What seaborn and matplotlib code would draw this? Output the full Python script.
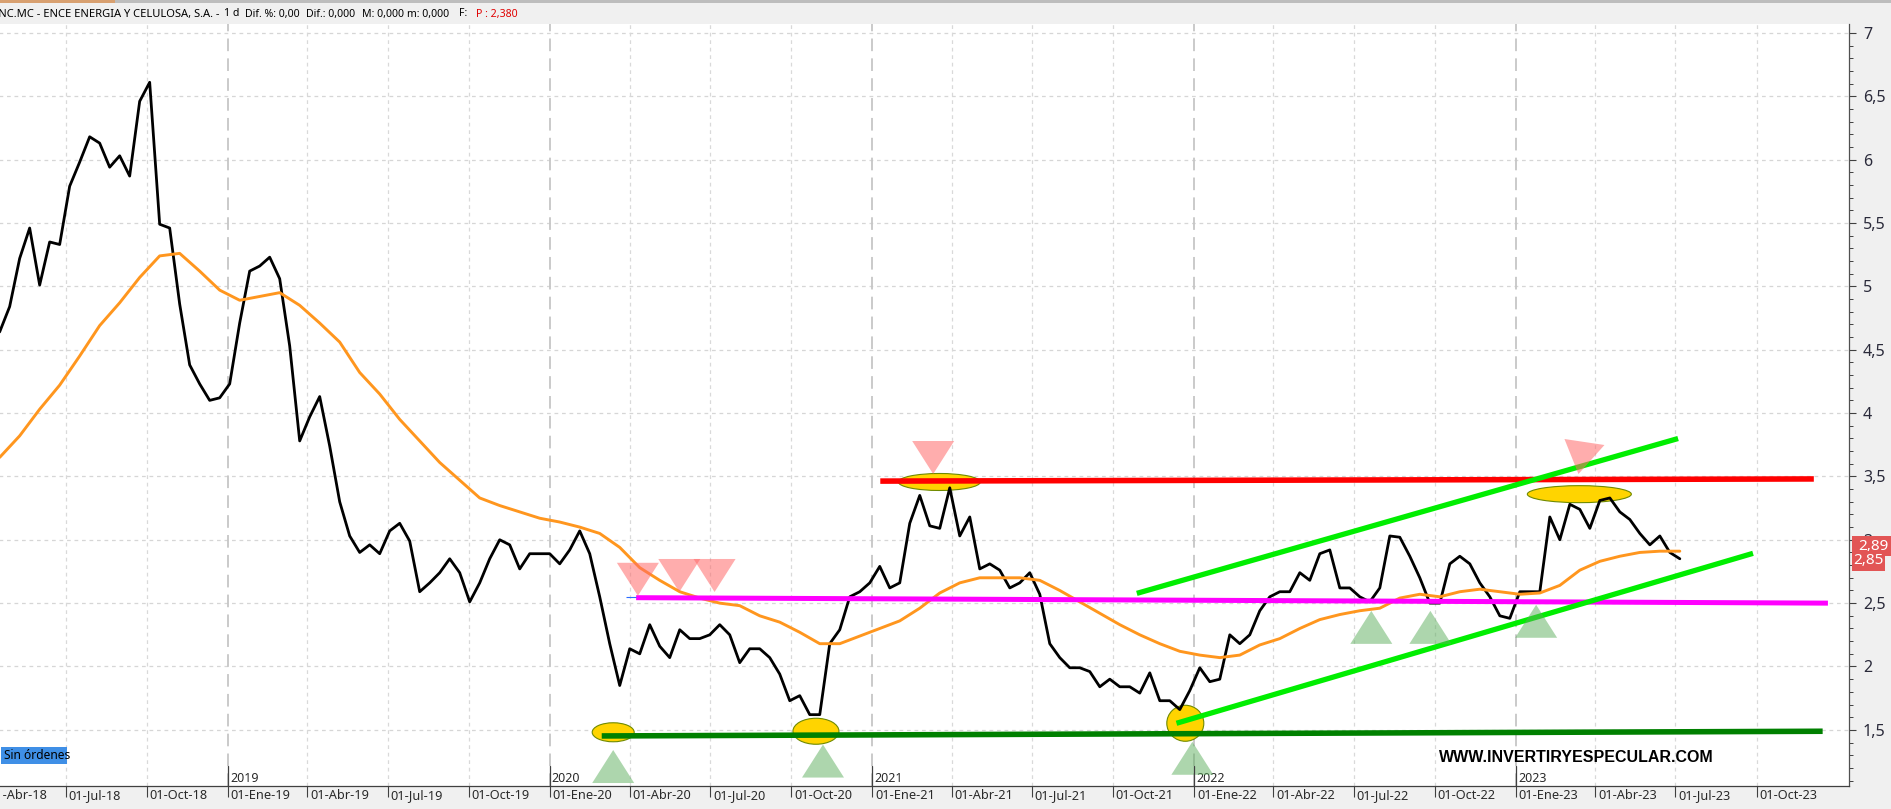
import pandas as pd
import numpy as np
import matplotlib
matplotlib.use('Agg')
import matplotlib.pyplot as plt
import matplotlib.transforms as mtransforms
from matplotlib.patches import Polygon, Ellipse, Rectangle
from matplotlib.ticker import MultipleLocator
import seaborn as sns

# ---------------- data ----------------
price_start = '2018-04-17'
price_end = '2023-07-06'
close_prices = [
    4.64, 4.84, 5.22, 5.46, 5.01, 5.35, 5.33, 5.79, 5.98, 6.18, 6.13, 5.94, 6.03, 5.87, 6.46, 6.61, 5.49, 5.46, 4.86,
    4.38, 4.23, 4.10, 4.12, 4.23, 4.71, 5.12, 5.16, 5.23, 5.06, 4.53, 3.78, 3.97, 4.13, 3.74, 3.30, 3.03, 2.90,
    2.96, 2.89, 3.07, 3.13, 2.99, 2.59, 2.66, 2.74, 2.85, 2.74, 2.51, 2.66, 2.85, 3.00, 2.96, 2.77, 2.89, 2.89, 2.89,
    2.81, 2.92, 3.07, 2.89, 2.55, 2.18, 1.85, 2.14, 2.10, 2.33, 2.16, 2.07, 2.29, 2.22, 2.22, 2.25, 2.33, 2.25,
    2.03, 2.14, 2.14, 2.07, 1.94, 1.73, 1.77, 1.62, 1.62, 2.18, 2.29, 2.55, 2.59, 2.66, 2.79, 2.62, 2.66, 3.13, 3.35,
    3.11, 3.09, 3.41, 3.03, 3.18, 2.77, 2.81, 2.76, 2.62, 2.66, 2.74, 2.57, 2.18, 2.07, 1.99, 1.99, 1.96, 1.84,
    1.90, 1.84, 1.84, 1.79, 1.95, 1.73, 1.73, 1.66, 1.81, 1.99, 1.88, 1.90, 2.25, 2.18, 2.25, 2.44, 2.55, 2.59, 2.59,
    2.74, 2.68, 2.89, 2.92, 2.62, 2.62, 2.55, 2.51, 2.62, 3.03, 3.02, 2.87, 2.70, 2.50, 2.50, 2.81, 2.87, 2.81,
    2.66, 2.55, 2.40, 2.38, 2.59, 2.59, 2.59, 3.18, 3.00, 3.28, 3.24, 3.09, 3.31, 3.33, 3.22, 3.16, 3.05, 2.96, 3.03,
    2.90, 2.85,
]
# moving average, read at every second price date
moving_avg = [
    3.65, 3.82, 4.03, 4.22, 4.45, 4.69, 4.87, 5.07, 5.24, 5.26,
    5.12, 4.97, 4.89, 4.92, 4.95, 4.85, 4.71, 4.56, 4.32, 4.15,
    3.95, 3.78, 3.61, 3.47, 3.33, 3.27, 3.22, 3.17, 3.14, 3.10,
    3.05, 2.94, 2.78, 2.68, 2.59, 2.54, 2.50, 2.48, 2.40, 2.35,
    2.27, 2.18, 2.18, 2.24, 2.30, 2.36, 2.46, 2.58, 2.66, 2.70,
    2.70, 2.70, 2.68, 2.60, 2.51, 2.42, 2.33, 2.25, 2.18, 2.12,
    2.09, 2.07, 2.09, 2.17, 2.22, 2.30, 2.37, 2.41, 2.44, 2.46,
    2.54, 2.57, 2.55, 2.59, 2.61, 2.59, 2.57, 2.58, 2.64, 2.76,
    2.83, 2.87, 2.90, 2.91, 2.91,
]

xtick_dates = ['2018-04-01', '2018-07-01', '2018-10-01', '2019-01-01', '2019-04-01', '2019-07-01',
               '2019-10-01', '2020-01-01', '2020-04-01', '2020-07-01', '2020-10-01', '2021-01-01',
               '2021-04-01', '2021-07-01', '2021-10-01', '2022-01-01', '2022-04-01', '2022-07-01',
               '2022-10-01', '2023-01-01', '2023-04-01', '2023-07-01', '2023-10-01']
xtick_labels = ['01-Abr-18', '01-Jul-18', '01-Oct-18', '01-Ene-19', '01-Abr-19', '01-Jul-19',
                '01-Oct-19', '01-Ene-20', '01-Abr-20', '01-Jul-20', '01-Oct-20', '01-Ene-21',
                '01-Abr-21', '01-Jul-21', '01-Oct-21', '01-Ene-22', '01-Abr-22', '01-Jul-22',
                '01-Oct-22', '01-Ene-23', '01-Abr-23', '01-Jul-23', '01-Oct-23']
year_dates = ['2019-01-01', '2020-01-01', '2021-01-01', '2022-01-01', '2023-01-01']
year_labels = ['2019', '2020', '2021', '2022', '2023']
ytick_values = [1.5, 2.0, 2.5, 3.0, 3.5, 4.0, 4.5, 5.0, 5.5, 6.0, 6.5, 7.0]
ytick_labels = ['1,5', '2', '2,5', '3', '3,5', '4', '4,5', '5', '5,5', '6', '6,5', '7']

# drawn trend lines: (dates, values)
red_line_dates = ['2021-01-10', '2023-12-05']
red_line_vals = [3.463, 3.48]
magenta_dates = ['2020-04-08', '2023-12-21']
magenta_vals = [2.543, 2.50]
blue_tick_dates = ['2020-03-27', '2020-04-08']
blue_tick_vals = [2.55, 2.55]
dkgreen_dates = ['2020-02-29', '2023-12-15']
dkgreen_vals = [1.452, 1.489]
upper_chan_dates = ['2021-10-28', '2023-07-04']
upper_chan_vals = [2.577, 3.799]
lower_chan_dates = ['2021-12-12', '2023-09-27']
lower_chan_vals = [1.552, 2.893]

# highlighted pivots (ellipses)
ellipse_dates = ['2020-03-13', '2020-10-29', '2021-03-18', '2021-12-22', '2023-03-14']
ellipse_vals = [1.481, 1.489, 3.456, 1.552, 3.36]
ellipse_w_px = [42, 46, 82, 37, 104]
ellipse_h_px = [19, 26, 17, 36, 17]

# sell / buy marks (apex position)
down_dates = ['2020-04-10', '2020-05-27', '2020-07-06', '2021-03-11', '2023-03-13']
down_vals = [2.558, 2.588, 2.588, 3.519, 3.519]
up_dates = ['2020-03-13', '2020-11-06', '2021-12-30', '2022-07-21', '2022-09-26', '2023-01-24']
up_vals = [1.341, 1.384, 1.406, 2.439, 2.439, 2.487]

# ---------------- figure ----------------
sns.set_style('white')
plt.rcParams['font.family'] = ['Noto Sans', 'DejaVu Sans']

W, H, DPI = 1891, 809, 100
fig = plt.figure(figsize=(W / DPI, H / DPI), dpi=DPI, facecolor='#f0f0f0')

LEFT_PX, RIGHT_PX, TOP_PX, BOT_PX = -20, 1849, 24, 786
ax = fig.add_axes([LEFT_PX / W, (H - BOT_PX) / H, (RIGHT_PX - LEFT_PX) / W, (BOT_PX - TOP_PX) / H])
ax.set_facecolor('white')

price_dates = pd.date_range(price_start, price_end, periods=len(close_prices))
ma_dates = price_dates[::2]
price_df = pd.DataFrame({'date': price_dates, 'close': close_prices})
ma_df = pd.DataFrame({'date': ma_dates, 'ma': moving_avg})

sns.lineplot(data=price_df, x='date', y='close', ax=ax, color='black', linewidth=2.0,
             estimator=None, sort=False, zorder=2.5)
sns.lineplot(data=ma_df, x='date', y='ma', ax=ax, color='#ff961e', linewidth=2.1,
             estimator=None, sort=False, zorder=2.6)

# grid
for v in ytick_values:
    ax.axhline(v, color='#d6d6d6', lw=0.9, ls=(0, (3, 3)), zorder=0.5)
for d in pd.to_datetime(xtick_dates):
    if d.month == 1:
        ax.axvline(d, color='#c6c6c6', lw=1.3, ls=(0, (7, 4)), zorder=0.5)
    else:
        ax.axvline(d, color='#d9d9d9', lw=0.9, ls=(0, (3, 3)), zorder=0.5)

# trend lines
def tline(ds, vs, color, lw, z=3):
    ax.plot(pd.to_datetime(ds), vs, color=color, lw=lw, solid_capstyle='butt', zorder=z)

tline(dkgreen_dates, dkgreen_vals, '#008000', 4.0)
tline(magenta_dates, magenta_vals, '#ff00ff', 3.6)
tline(blue_tick_dates, blue_tick_vals, '#2b6cff', 0.8)
tline(red_line_dates, red_line_vals, '#ff0000', 4.0)
tline(upper_chan_dates, upper_chan_vals, '#00ee00', 3.8)
tline(lower_chan_dates, lower_chan_vals, '#00ee00', 3.8)

def anchored(date, val):
    x = matplotlib.dates.date2num(pd.Timestamp(date))
    return fig.dpi_scale_trans + mtransforms.ScaledTranslation(x, val, ax.transData)

for d, v, w, h in zip(ellipse_dates, ellipse_vals, ellipse_w_px, ellipse_h_px):
    e = Ellipse((0, 0), w / DPI, h / DPI, facecolor='#ffd400', edgecolor='#6f8a00', lw=0.8,
                transform=anchored(d, v), zorder=1.5)
    ax.add_patch(e)

TW, TH = 42 / DPI, 33 / DPI
down_shapes = [None, None, None, None, [(0, 0), (-14 / DPI, 35 / DPI), (26 / DPI, 29 / DPI)]]
for d, v, shp in zip(down_dates, down_vals, down_shapes):
    verts = shp if shp else [(0, 0), (-TW / 2, TH), (TW / 2, TH)]
    ax.add_patch(Polygon(verts, closed=True, facecolor='#ff6a6a', alpha=0.55, lw=0,
                         transform=anchored(d, v), zorder=4))
for d, v in zip(up_dates, up_vals):
    verts = [(0, 0), (-TW / 2, -TH), (TW / 2, -TH)]
    ax.add_patch(Polygon(verts, closed=True, facecolor='#5cae5c', alpha=0.5, lw=0,
                         transform=anchored(d, v), zorder=4))

# axes limits
base = pd.Timestamp('2019-01-01')
ax.set_xlim(base - pd.Timedelta(days=281.3), base + pd.Timedelta(days=1838.9))
ax.set_ylim(1.057, 7.07)

# x axis ticks
ax.set_xticks(pd.to_datetime(xtick_dates))
ax.set_xticklabels(xtick_labels)
ax.tick_params(axis='x', which='major', direction='out', length=8, width=0.8, color='#404040',
               pad=-6, labelsize=9.2, labelcolor='#2a2a2a', bottom=True)
off = mtransforms.ScaledTranslation(2 / 72, 0, fig.dpi_scale_trans)
for lbl in ax.get_xticklabels():
    lbl.set_ha('left')
    lbl.set_transform(lbl.get_transform() + off)

for d, lab in zip(pd.to_datetime(year_dates), year_labels):
    ax.plot([d, d], [0, 0.026], transform=ax.get_xaxis_transform(), color='#404040', lw=0.9,
            zorder=5, clip_on=False)
    ax.annotate(lab, xy=(d, 0), xycoords=('data', 'axes fraction'), xytext=(1.5, 1.0),
                textcoords='offset points', ha='left', va='bottom', fontsize=9, color='#2a2a2a')

# y axis on the right
ax.yaxis.tick_right()
ax.set_yticks(ytick_values)
ax.set_yticklabels(ytick_labels)
ax.yaxis.set_minor_locator(MultipleLocator(0.1))
ax.tick_params(axis='y', which='major', direction='out', length=5, width=0.8, color='#404040',
               pad=5, labelsize=11.5, labelcolor='#2a2a3a', right=True, left=False)
ax.tick_params(axis='y', which='minor', direction='out', length=3, width=0.7, color='#404040',
               right=True, left=False)
ax.set_xlabel('')
ax.set_ylabel('')
for s in ['left', 'top']:
    ax.spines[s].set_visible(False)
ax.spines['right'].set_color('#505050')
ax.spines['bottom'].set_color('#404040')
ax.spines['right'].set_linewidth(0.9)
ax.spines['bottom'].set_linewidth(0.9)

# ---------------- figure decorations (pixel positions) ----------------
def px_rect(x0, y0, x1, y1, color, z=5):
    fig.add_artist(Rectangle((x0 / W, 1 - y1 / H), (x1 - x0) / W, (y1 - y0) / H,
                             transform=fig.transFigure, facecolor=color, edgecolor='none', zorder=z))

px_rect(0, 0, W, 3, '#bdbdbd')
px_rect(0, 0, 115, 3, '#d8a070')

title_parts = [('ENC.MC - ENCE ENERGIA Y CELULOSA, S.A. -', 219, 'right', '#000000', 8.05),
               ('1 d', 224, 'left', '#000000', 7.6),
               ('Dif. %: 0,00', 245, 'left', '#000000', 7.6),
               ('Dif.: 0,000', 306, 'left', '#000000', 7.6),
               ('M: 0,000', 362, 'left', '#000000', 7.6),
               ('m: 0,000', 407, 'left', '#000000', 7.6),
               ('F:', 459, 'left', '#000000', 7.6),
               ('P : 2,380', 476, 'left', '#e00000', 7.6)]
for txt, xp, ha, col, fs in title_parts:
    fig.text(xp / W, 1 - 14 / H, txt, ha=ha, va='center', fontsize=fs, color=col)

# 'Sin órdenes' badge
px_rect(1, 747, 67, 764, '#3f8fe6', z=6)
fig.text(4 / W, 1 - 755.5 / H, 'Sin órdenes', ha='left', va='center', fontsize=8.6, color='black', zorder=7)

# watermark
fig.text(1576 / W, 1 - 757 / H, 'WWW.INVERTIRYESPECULAR.COM', ha='center', va='center',
         fontsize=11.5, fontweight='bold', family='Liberation Sans', color='black', zorder=7)

# last price tags
px_rect(1852, 536, 1891, 556, '#e25555', z=6)
fig.text(1873 / W, 1 - 546 / H, '2,89', ha='center', va='center', fontsize=11, color='white', zorder=7)
px_rect(1852, 551, 1885, 571, '#e25555', z=8)
fig.text(1868.5 / W, 1 - 561 / H, '2,85', ha='center', va='center', fontsize=11, color='white', zorder=9)

fig.savefig('out.png', dpi=DPI, facecolor=fig.get_facecolor())
